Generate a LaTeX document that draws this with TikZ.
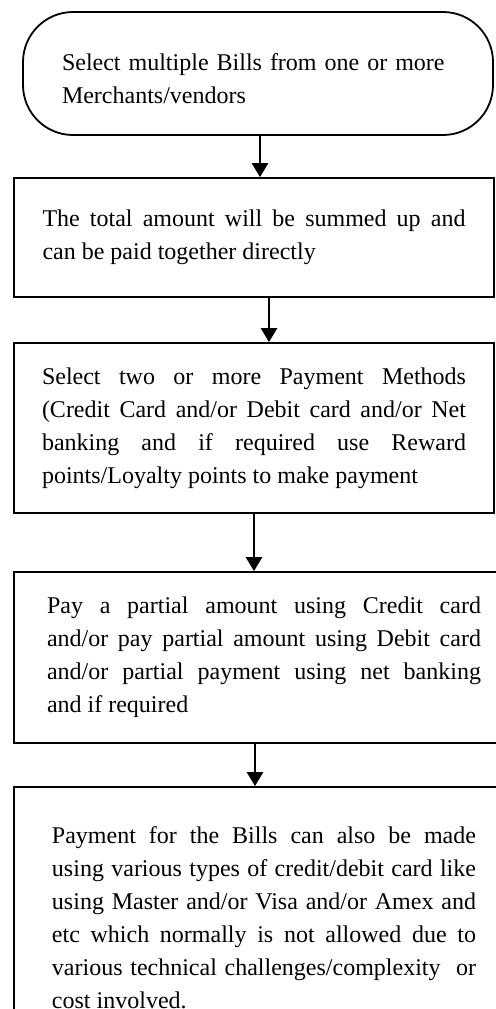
\documentclass[tikz,border=0pt]{standalone}
\usepackage{fontspec}
\setmainfont{Liberation Serif}
\usetikzlibrary{arrows.meta}

\tikzset{
  stepbox/.style={draw, line width=0.9pt, rectangle, align=justify,
    font=\fontsize{12pt}{16.5pt}\selectfont},
  startbox/.style={stepbox, rounded corners=25pt, align=left},
  flow/.style={line width=1.3pt, -{Triangle[length=7pt,width=8pt]}}
}

\begin{document}
\begin{tikzpicture}[x=0.5pt,y=-0.5pt]
\useasboundingbox (0,0) rectangle (495,1009);

\node[startbox, minimum width=235pt, minimum height=61.5pt, text width=196pt] (select) at (258,73.5)
  {\rule{0pt}{13.5pt}Select multiple Bills from one or more\\ Merchants/vendors};

\node[stepbox, minimum width=240pt, minimum height=59.5pt, text width=211.5pt] (total) at (254,237.5)
  {The total amount will be summed up and\linebreak can be paid together directly};

\node[stepbox, minimum width=240pt, minimum height=85pt, text width=212pt] (methods) at (254,428)
  {Select two or more Payment Methods\linebreak (Credit Card and/or Debit card and/or Net\linebreak
   banking and if required use Reward\linebreak points/Loyalty points to make payment};

\node[stepbox, minimum width=250pt, minimum height=85.5pt, text width=217pt] (partial) at (264,657.5)
  {Pay a partial amount using Credit card\linebreak and/or pay partial amount using Debit card\linebreak
   and/or partial payment using net banking\linebreak and if required};

\node[stepbox, minimum width=250pt, minimum height=130.5pt, text width=212pt] (cards) at (264,917.5)
  {Payment for the Bills can also be made\linebreak using various types of credit/debit card like\linebreak
   using Master and/or Visa and/or Amex and\linebreak etc which normally is not allowed due to\linebreak
   various technical challenges/complexity\ \ or\linebreak cost involved.};

\draw[flow] ([xshift=1pt]select.south) -- ([xshift=1pt]select.south |- total.north);
\draw[flow] ([xshift=7.5pt]total.south) -- ([xshift=7.5pt]total.south |- methods.north);
\draw[flow] (methods.south) -- (methods.south |- partial.north);
\draw[flow] ([xshift=-4.5pt]partial.south) -- ([xshift=-4.5pt]partial.south |- cards.north);
\end{tikzpicture}
\end{document}
